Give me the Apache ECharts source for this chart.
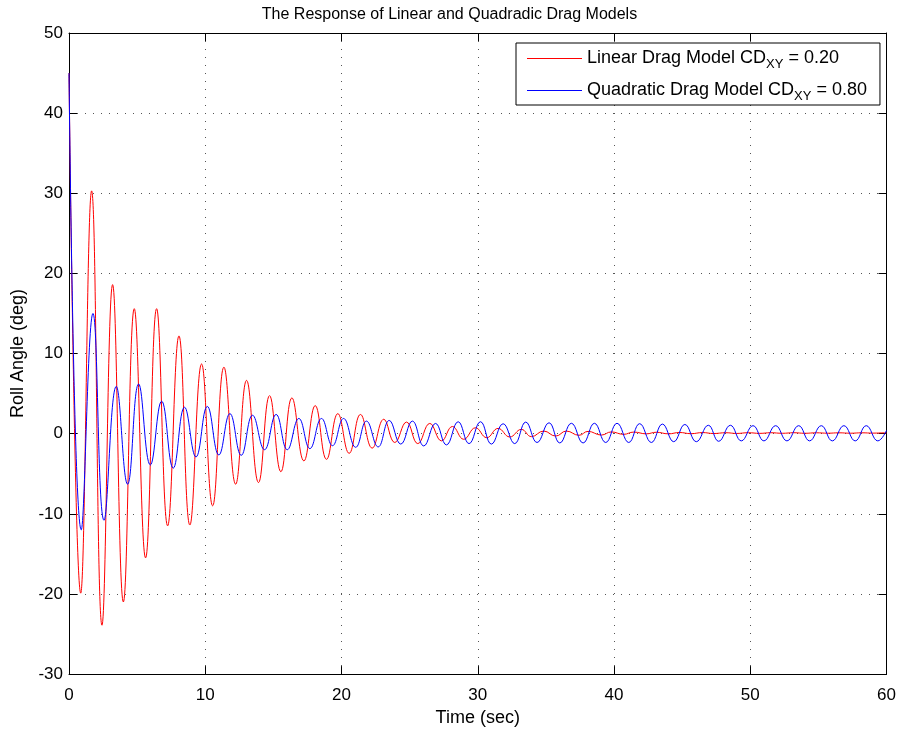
<!DOCTYPE html>
<html>
<head>
<meta charset="utf-8">
<script src="https://cdn.jsdelivr.net/npm/echarts@6/dist/echarts.min.js"></script>
<style>
html,body{margin:0;padding:0;background:#fff;}
#chart{width:899px;height:732px;}
</style>
</head>
<body>
<div id="chart"></div>
<script>
// ---- data (extremes of each oscillation) ----
const redTime = [0, 0.86, 1.66, 2.42, 3.2, 3.99, 4.79, 5.62, 6.43, 7.24, 8.07, 8.87, 9.73, 10.54, 11.37, 12.23, 13.03, 13.91, 14.72, 15.55, 16.36, 17.24, 18.07, 18.9, 19.73, 20.56, 21.39, 22.25, 23.1, 23.91, 24.77, 25.6, 26.48, 27.34, 28.14, 28.97, 29.83, 30.66, 31.49, 32.35, 33.2, 33.94, 34.84, 35.72, 36.5, 37.43, 38.09, 39.07, 39.8, 40.7, 41.45, 42.37, 43.1, 44.0, 44.8, 45.65, 46.5, 47.3, 48.2, 49.0, 49.85, 50.7, 51.5, 52.35, 53.2, 54.0, 54.85, 55.7, 56.5, 57.35, 58.2, 59.0, 59.85, 60];
const redValue = [45, -19.9, 30.3, -23.9, 18.6, -21.0, 15.6, -15.5, 15.6, -11.5, 12.2, -11.4, 8.7, -9.0, 8.3, -6.3, 6.65, -6.1, 4.75, -4.75, 4.47, -3.4, 3.5, -3.2, 2.5, -2.45, 2.4, -1.8, 1.8, -1.1, 1.45, -1.24, 1.28, -0.9, 0.9, -0.7, 0.74, -0.5, 0.66, -0.41, 0.54, -0.37, 0.33, -0.3, 0.33, -0.2, 0.29, -0.17, 0.22, -0.08, 0.2, -0.02, 0.18, -0.02, 0.15, 0.0, 0.14, 0.02, 0.12, 0.03, 0.12, 0.04, 0.12, 0.05, 0.12, 0.05, 0.11, 0.06, 0.11, 0.06, 0.11, 0.07, 0.1, 0.1];
const blueTime = [0, 0.9, 1.76, 2.57, 3.47, 4.3, 5.11, 5.97, 6.8, 7.65, 8.48, 9.32, 10.15, 11.0, 11.81, 12.64, 13.47, 14.35, 15.2, 16.02, 16.87, 17.68, 18.53, 19.34, 20.15, 21.04, 21.83, 22.69, 23.5, 24.35, 25.2, 26.04, 26.9, 27.7, 28.56, 29.36, 30.2, 31.0, 31.86, 32.71, 33.52, 34.35, 35.23, 36.02, 36.87, 37.73, 38.56, 39.39, 40.22, 41.08, 41.88, 42.74, 43.55, 44.38, 45.2, 46.04, 46.92, 47.68, 48.54, 49.34, 50.2, 51.0, 51.86, 52.69, 53.55, 54.35, 55.21, 56.02, 56.87, 57.7, 58.51, 59.36, 60];
const blueValue = [45, -12.0, 15.0, -10.8, 5.9, -6.3, 6.2, -3.9, 4.05, -4.3, 3.3, -2.9, 3.4, -2.65, 2.5, -2.7, 2.3, -2.0, 2.4, -2.0, 1.9, -1.86, 1.9, -1.5, 1.9, -1.7, 1.57, -1.65, 1.65, -1.3, 1.57, -1.53, 1.28, -1.4, 1.49, -1.24, 1.49, -1.3, 1.24, -1.24, 1.45, -1.1, 1.36, -1.16, 1.3, -1.16, 1.3, -1.1, 1.3, -1.1, 1.25, -1.1, 1.2, -1.0, 1.15, -1.0, 1.05, -0.95, 1.05, -0.9, 1.0, -0.9, 1.0, -0.9, 1.0, -0.9, 1.0, -0.9, 1.0, -0.9, 1.0, -0.9, 0.4];

const xTicks = [0, 10, 20, 30, 40, 50, 60];
const yTicks = [-30, -20, -10, 0, 10, 20, 30, 40, 50];
const seriesNames = ['Linear Drag Model', 'Quadratic Drag Model'];
const seriesColors = ['#ff0000', '#0000ff'];
const legendMain = ['Linear Drag Model CD', 'Quadratic Drag Model CD'];
const legendSub = ['XY', 'XY'];
const legendTail = [' = 0.20', ' = 0.80'];
const titleText = 'The Response of Linear and Quadradic Drag Models';
const xName = 'Time (sec)';
const yName = 'Roll Angle (deg)';

// ---- build ----
const zip = (t, v) => t.map((x, i) => [x, v[i]]);
const FONT = 'Liberation Sans, Arial, Helvetica, sans-serif';
const gridLine = { show: true, lineStyle: { color: '#555', width: 1, type: [1, 7] } };

const chart = echarts.init(document.getElementById('chart'), null, { renderer: 'canvas' });
const option = {
  animation: false,
  backgroundColor: '#fff',
  textStyle: { fontFamily: FONT, color: '#000' },
  title: {
    text: titleText, left: 'center', top: 2,
    textStyle: { fontSize: 16, fontWeight: 'normal', color: '#000', fontFamily: FONT }
  },
  grid: { left: 69, right: 12, top: 33, bottom: 54, containLabel: false },
  legend: {
    orient: 'vertical', left: 516, top: 43,
    padding: [3, 13, 2, 11], itemGap: 7,
    itemWidth: 55, itemHeight: 1, icon: 'rect',
    borderColor: '#000', borderWidth: 1, borderRadius: 0, backgroundColor: '#fff',
    selectedMode: false,
    itemStyle: { borderWidth: 0 },
    data: seriesNames.map((n, i) => ({
      name: n, icon: 'rect',
      itemStyle: { color: seriesColors[i], borderWidth: 0 },
      lineStyle: { color: seriesColors[i] }
    })),
    formatter: function (name) {
      const i = seriesNames.indexOf(name);
      return '{m|' + legendMain[i] + '}{s|' + legendSub[i] + '}{m|' + legendTail[i] + '}';
    },
    textStyle: {
      color: '#000', fontFamily: FONT, fontSize: 18,
      rich: {
        m: { fontSize: 18, lineHeight: 26, color: '#000', fontFamily: FONT },
        s: { fontSize: 13, lineHeight: 14, color: '#000', fontFamily: FONT, padding: [12, 0, 0, 0] }
      }
    }
  },
  xAxis: [
    {
      type: 'value', min: 0, max: 60, interval: 10, position: 'bottom',
      name: xName, nameLocation: 'middle', nameGap: 29,
      nameTextStyle: { fontSize: 18, color: '#000', fontFamily: FONT },
      axisLine: { show: true, onZero: false, lineStyle: { color: '#000', width: 1 } },
      axisTick: { show: true, inside: true, length: 8, lineStyle: { color: '#000' } },
      axisLabel: { fontSize: 17, color: '#000', margin: 13, fontFamily: FONT,
        formatter: v => xTicks.includes(v) ? String(v) : '' },
      splitLine: gridLine
    },
    {
      type: 'value', min: 0, max: 60, interval: 10, position: 'top',
      axisLine: { show: true, onZero: false, lineStyle: { color: '#000', width: 1 } },
      axisTick: { show: true, inside: true, length: 8, lineStyle: { color: '#000' } },
      axisLabel: { show: false }, splitLine: { show: false }
    }
  ],
  yAxis: [
    {
      type: 'value', min: -30, max: 50, interval: 10, position: 'left',
      name: yName, nameLocation: 'middle', nameGap: 40,
      nameTextStyle: { fontSize: 18, color: '#000', fontFamily: FONT },
      axisLine: { show: true, onZero: false, lineStyle: { color: '#000', width: 1 } },
      axisTick: { show: true, inside: true, length: 8, lineStyle: { color: '#000' } },
      axisLabel: { fontSize: 17, color: '#000', margin: 6, fontFamily: FONT,
        formatter: v => yTicks.includes(v) ? String(v) : '' },
      splitLine: gridLine
    },
    {
      type: 'value', min: -30, max: 50, interval: 10, position: 'right',
      axisLine: { show: true, onZero: false, lineStyle: { color: '#000', width: 1 } },
      axisTick: { show: true, inside: true, length: 8, lineStyle: { color: '#000' } },
      axisLabel: { show: false }, splitLine: { show: false }
    }
  ],
  series: [
    {
      name: seriesNames[0], type: 'line', xAxisIndex: 0, yAxisIndex: 0,
      data: zip(redTime, redValue), showSymbol: false, symbol: 'none',
      smooth: 0.45, lineStyle: { color: seriesColors[0], width: 1 }, itemStyle: { color: seriesColors[0] },
      emphasis: { disabled: true }, silent: true
    },
    {
      name: seriesNames[1], type: 'line', xAxisIndex: 0, yAxisIndex: 0,
      data: zip(blueTime, blueValue), showSymbol: false, symbol: 'none',
      smooth: 0.45, lineStyle: { color: seriesColors[1], width: 1 }, itemStyle: { color: seriesColors[1] },
      emphasis: { disabled: true }, silent: true
    }
  ]
};
chart.setOption(option);
</script>
</body>
</html>
